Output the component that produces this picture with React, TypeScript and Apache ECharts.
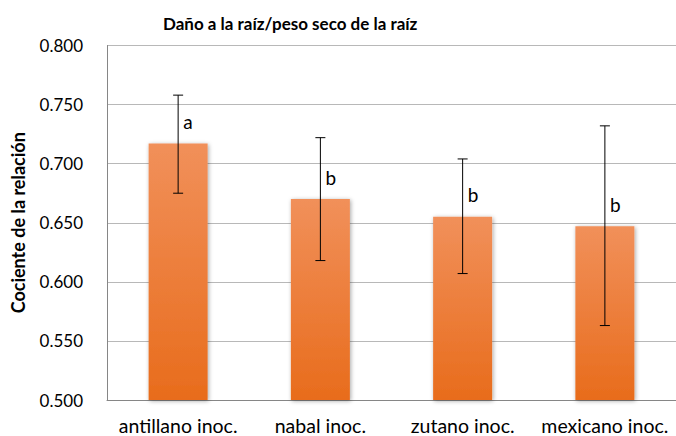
import React, { useEffect, useRef } from "react";
import * as echarts from "echarts";

const categories = ["antillano inoc.", "nabal inoc.", "zutano inoc.", "mexicano inoc."];
const means = [0.717, 0.670, 0.655, 0.647];
const errLow = [0.675, 0.618, 0.607, 0.563];
const errHigh = [0.758, 0.722, 0.704, 0.732];
const letters = ["a", "b", "b", "b"];
const yTicks = { min: 0.5, max: 0.8, interval: 0.05 };

const FONT = "Lato, 'Open Sans', sans-serif";

export default function App() {
  const ref = useRef<HTMLDivElement>(null);
  useEffect(() => {
    if (!ref.current) return;
    const chart = echarts.init(ref.current, null, { renderer: "svg" });
    const errData = categories.map((_, i) => [i, errLow[i], errHigh[i], means[i]]);
    chart.setOption({
      animation: false,
      backgroundColor: "#fff",
      title: {
        text: "Daño a la raíz/peso seco de la raíz",
        left: 158,
        top: 10,
        textStyle: { fontFamily: FONT, fontSize: 17, fontWeight: "bold", color: "#000" },
      },
      grid: { left: 107, right: -5, top: 45.5, bottom: 36, containLabel: false },
      xAxis: {
        type: "category",
        data: categories,
        axisLine: { lineStyle: { color: "#868686", width: 1 } },
        axisTick: { show: false },
        axisLabel: { fontFamily: FONT, fontSize: 19.5, color: "#000", margin: 15, interval: 0 },
      },
      yAxis: {
        type: "value",
        min: yTicks.min,
        max: yTicks.max,
        interval: yTicks.interval,
        name: "Cociente de la relación",
        nameLocation: "middle",
        nameGap: 80,
        nameTextStyle: { fontFamily: FONT, fontSize: 18, fontWeight: "bold", color: "#000" },
        axisLine: { show: true, lineStyle: { color: "#868686", width: 1 } },
        axisTick: { show: false },
        splitLine: { lineStyle: { color: "#b8b8b8", width: 1 } },
        axisLabel: {
          fontFamily: FONT,
          fontSize: 17,
          color: "#000",
          margin: 24,
          formatter: (v: number) => v.toFixed(3),
        },
      },
      series: [
        {
          type: "bar",
          data: means,
          barWidth: 59,
          itemStyle: {
            color: new echarts.graphic.LinearGradient(0, 0, 0, 1, [
              { offset: 0, color: "#f1905a" },
              { offset: 1, color: "#e86c1c" },
            ]),
            shadowBlur: 4,
            shadowColor: "rgba(0,0,0,0.35)",
            shadowOffsetX: 1,
            shadowOffsetY: 1,
          },
        },
        {
          type: "custom",
          data: errData,
          z: 10,
          renderItem: (params: any, api: any) => {
            const x = api.coord([api.value(0), api.value(1)])[0];
            const lo = api.coord([api.value(0), api.value(1)])[1];
            const hi = api.coord([api.value(0), api.value(2)])[1];
            const top = api.coord([api.value(0), api.value(3)])[1];
            const cap = 5;
            const st = { stroke: "#000", lineWidth: 1 };
            return {
              type: "group",
              children: [
                { type: "line", shape: { x1: x, y1: hi, x2: x, y2: lo }, style: st },
                { type: "line", shape: { x1: x - cap, y1: hi, x2: x + cap, y2: hi }, style: st },
                { type: "line", shape: { x1: x - cap, y1: lo, x2: x + cap, y2: lo }, style: st },
                {
                  type: "text",
                  x: x + 5,
                  y: top - 22,
                  style: {
                    text: letters[params.dataIndex],
                    fontFamily: FONT,
                    fontSize: 19,
                    fill: "#000",
                    textAlign: "left",
                    textVerticalAlign: "middle",
                  },
                },
              ],
            };
          },
        },
      ],
    });
    return () => chart.dispose();
  }, []);
  return (
    <div
      ref={ref}
      style={{ position: "absolute", left: 0, top: 0, width: 676, height: 436 }}
    />
  );
}
